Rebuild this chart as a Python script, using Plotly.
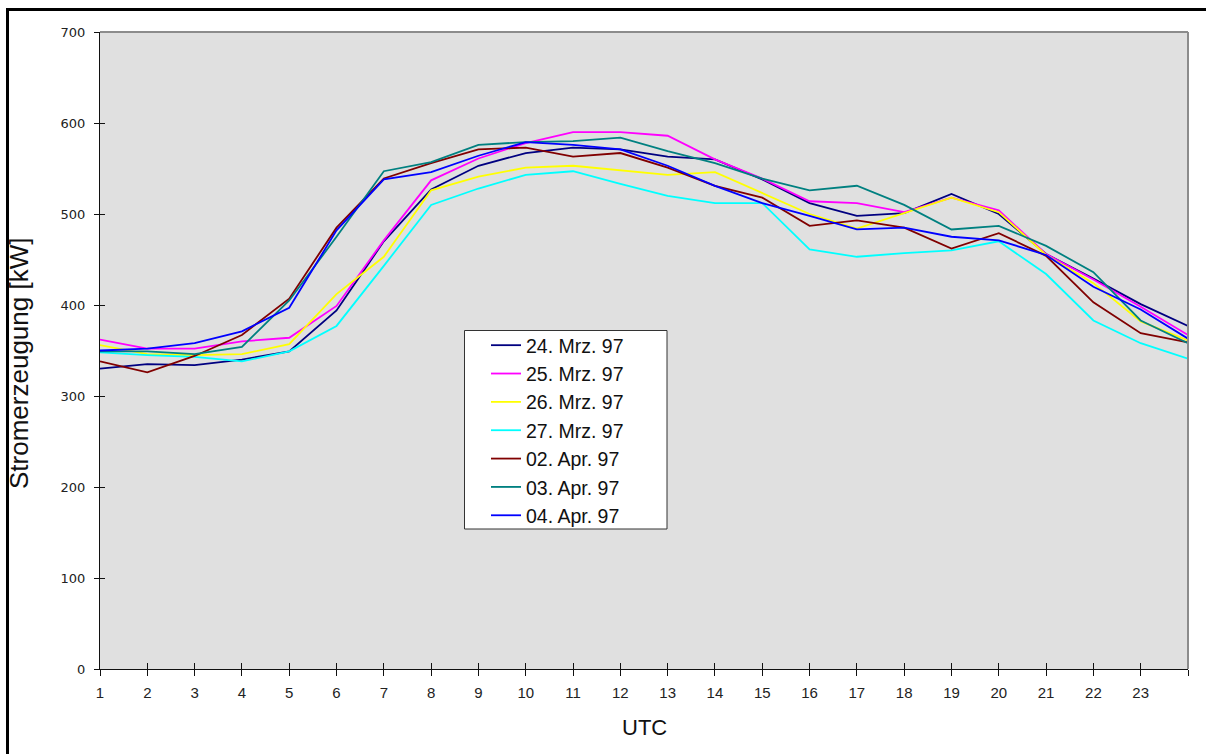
import plotly.graph_objects as go

# Hourly electricity generation (kW), hours 1..24 UTC
hours = list(range(1, 25))

series_names = [
    "24. Mrz. 97", "25. Mrz. 97", "26. Mrz. 97", "27. Mrz. 97",
    "02. Apr. 97", "03. Apr. 97", "04. Apr. 97",
]

mrz24 = [330, 335, 334, 340, 349, 394, 470, 527, 553, 567, 573, 571,
         563, 560, 538, 512, 498, 501, 522, 500, 456, 429, 401, 377]
mrz25 = [362, 352, 352, 360, 364, 399, 471, 537, 561, 578, 590, 590,
         586, 560, 539, 514, 512, 502, 518, 504, 456, 428, 398, 367]
mrz26 = [356, 346, 345, 346, 357, 412, 453, 526, 541, 551, 553, 548,
         543, 546, 523, 500, 484, 501, 518, 502, 455, 424, 382, 361]
mrz27 = [348, 345, 343, 338, 349, 377, 443, 510, 528, 543, 547, 533,
         520, 512, 512, 461, 453, 457, 460, 470, 434, 383, 358, 341]
apr02 = [338, 326, 344, 367, 407, 485, 539, 556, 571, 573, 563, 567,
         551, 531, 518, 487, 493, 485, 462, 479, 454, 403, 369, 359]
apr03 = [349, 349, 346, 354, 405, 475, 547, 557, 576, 579, 580, 584,
         569, 556, 539, 526, 531, 510, 483, 487, 465, 436, 383, 358]
apr04 = [350, 352, 358, 371, 397, 482, 538, 546, 564, 579, 576, 571,
         553, 531, 512, 498, 483, 485, 475, 471, 455, 420, 395, 363]

series_values = [mrz24, mrz25, mrz26, mrz27, apr02, apr03, apr04]
series_colors = ["#000080", "#FF00FF", "#FFFF00", "#00FFFF",
                 "#800000", "#008080", "#0000FF"]

x_tickvals = list(range(1, 25))
x_ticktext = [str(h) for h in range(1, 24)] + [""]
y_tickvals = list(range(0, 701, 100))

FONT = "Liberation Sans, Arial, sans-serif"

fig = go.Figure()
for name, vals, col in zip(series_names, series_values, series_colors):
    fig.add_trace(go.Scatter(
        x=hours, y=vals, name=name, mode="lines",
        line=dict(color=col, width=1.8),
    ))

# empty traces that carry the inward half of the crossing tick marks
fig.add_trace(go.Scatter(x=[], y=[], xaxis="x2", yaxis="y2",
                         showlegend=False, hoverinfo="skip"))

W, H = 1206, 754
L, R, T, B = 100, 18, 32, 85
pw, ph = W - L - R, H - T - B


def px_x(p):
    return (p - L) / pw


def px_y(p):
    return (H - B - p) / ph


fig.update_layout(
    width=W, height=H,
    margin=dict(l=L, r=R, t=T, b=B, pad=0),
    paper_bgcolor="white",
    plot_bgcolor="#E0E0E0",
    font=dict(family=FONT, color="#222222"),
    showlegend=True,
    legend=dict(
        x=px_x(486), y=px_y(326), xanchor="left", yanchor="top",
        bgcolor="rgba(0,0,0,0)", borderwidth=0,
        font=dict(family=FONT, size=19.5, color="#111111"),
        itemwidth=30,
    ),
    xaxis=dict(
        range=[1, 24], tickvals=x_tickvals, ticktext=x_ticktext,
        ticks="outside", ticklen=6, tickcolor="#111111", tickwidth=1,
        showline=True, linecolor="#111111", linewidth=1,
        showgrid=False, zeroline=False,
        tickfont=dict(size=15, color="#222222"),
        ticklabelstandoff=4,
    ),
    yaxis=dict(
        range=[0, 700], tickvals=y_tickvals,
        ticks="outside", ticklen=5, tickcolor="#111111", tickwidth=1,
        showline=True, linecolor="#111111", linewidth=1,
        showgrid=False, zeroline=False,
        tickfont=dict(family="DejaVu Sans, sans-serif", size=13,
                      color="#222222"),
        ticklabelstandoff=6,
    ),
    xaxis2=dict(
        range=[1, 24], tickvals=x_tickvals, overlaying="x",
        anchor="y", side="bottom",
        ticks="inside", ticklen=6, tickcolor="#111111", tickwidth=1,
        showticklabels=False, showline=False, showgrid=False, zeroline=False,
    ),
    yaxis2=dict(
        range=[0, 700], tickvals=y_tickvals, overlaying="y",
        anchor="x", side="left",
        ticks="inside", ticklen=5, tickcolor="#111111", tickwidth=1,
        showticklabels=False, showline=False, showgrid=False, zeroline=False,
    ),
    shapes=[
        # grey frame on top and right of the plotting area
        dict(type="line", xref="paper", yref="paper", x0=0, x1=1, y0=1, y1=1,
             line=dict(color="#8C8C8C", width=2)),
        dict(type="line", xref="paper", yref="paper", x0=1, x1=1, y0=0, y1=1,
             line=dict(color="#8C8C8C", width=2)),
        # legend box
        dict(type="rect", xref="paper", yref="paper",
             x0=px_x(464.5), x1=px_x(667), y0=px_y(330.5), y1=px_y(529),
             fillcolor="white", line=dict(color="#333333", width=1),
             layer="above"),
        # outer chart frame
        dict(type="rect", xref="paper", yref="paper",
             x0=px_x(7.5), x1=px_x(1230), y0=px_y(9.5), y1=px_y(780),
             line=dict(color="black", width=3), layer="above"),
    ],
    annotations=[
        dict(text="Stromerzeugung [kW]", xref="paper", yref="paper",
             x=px_x(19), y=px_y(364), xanchor="center", yanchor="middle",
             textangle=-90, showarrow=False,
             font=dict(family=FONT, size=26, color="#111111")),
        dict(text="UTC", xref="paper", yref="paper",
             x=px_x(644), y=px_y(727), xanchor="center", yanchor="middle",
             showarrow=False,
             font=dict(family=FONT, size=22, color="#111111")),
    ],
)

fig.write_html("out.html")
